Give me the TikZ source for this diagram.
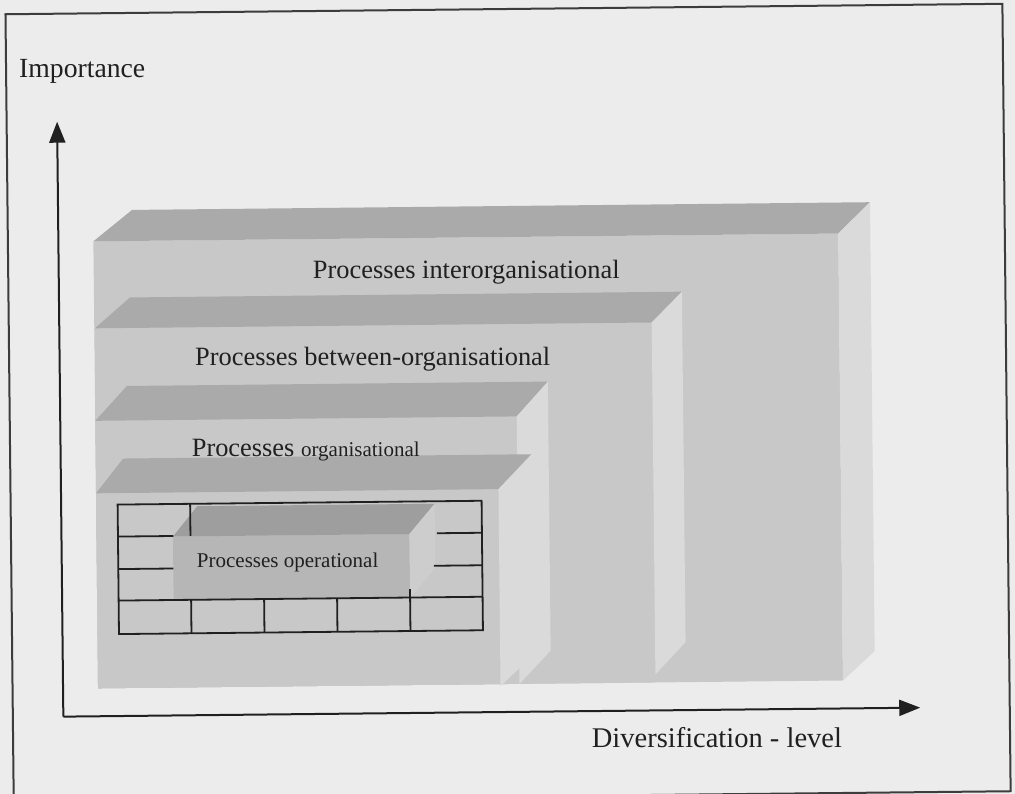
\documentclass[tikz,border=0pt]{standalone}
\usepackage{fontspec}
\setmainfont{Liberation Serif}
\usetikzlibrary{arrows.meta}

\definecolor{paper}{RGB}{236,236,236}
\definecolor{ink}{RGB}{32,32,32}
\definecolor{framec}{RGB}{60,60,60}
\definecolor{topc}{RGB}{170,170,170}
\definecolor{frontc}{RGB}{200,200,200}
\definecolor{sidec}{RGB}{218,218,218}
\definecolor{optopc}{RGB}{158,158,158}
\definecolor{opfrontc}{RGB}{182,182,182}
\definecolor{opsidec}{RGB}{205,205,205}

\tikzset{
  boxtop/.style={fill=topc},
  boxfront/.style={fill=frontc},
  boxside/.style={fill=sidec},
  optop/.style={fill=optopc},
  opfront/.style={fill=opfrontc},
  opside/.style={fill=opsidec},
  gridline/.style={draw=ink, line width=1.8pt},
  axisline/.style={draw=ink, line width=2pt, -{Triangle[length=21pt,width=16pt]}},
  lbl/.style={anchor=base west, inner sep=0pt, text=ink},
  bigfont/.style={font=\fontsize{28}{32}\selectfont},
  midfont/.style={font=\fontsize{26.4}{30}\selectfont},
  smallfont/.style={font=\fontsize{21}{25}\selectfont}
}

\begin{document}
\begin{tikzpicture}[x=1pt, y=-1pt]
\useasboundingbox (0,0) rectangle (1015,794);
\fill[paper] (0,0) rectangle (1015,794);

\begin{scope}[rotate around={0.6:(507.5,397)}]

% outer frame
\draw[framec, line width=2pt] (9.5,9) rectangle (1006.5,796.5);

% level 1: interorganisational slab
\fill[boxfront] (95,237) rectangle (840,684);
\fill[boxtop] (95,237) -- (134,206) -- (872,206) -- (840,237) -- cycle;
\fill[boxside] (840,237) -- (872,206) -- (872,655) -- (840,684) -- cycle;

% level 2: between-organisational slab
\fill[boxfront] (95.5,324) rectangle (652.5,684);
\fill[boxtop] (95.5,324) -- (131,293.5) -- (683,293.5) -- (652.5,324) -- cycle;
\fill[boxside] (652.5,324) -- (683,293.5) -- (683,644) -- (652.5,676) -- cycle;

% level 3: organisational slab
\fill[boxfront] (95,416.5) rectangle (516.5,684);
\fill[boxtop] (95,416.5) -- (127,382) -- (548,382) -- (516.5,416.5) -- cycle;
\fill[boxside] (516.5,416.5) -- (548,382) -- (548,651) -- (516.5,684) -- cycle;

% level 4: slab holding the grid
\fill[boxfront] (95,489) rectangle (497.5,684);
\fill[boxtop] (95,489) -- (122.5,454.5) -- (531,454.5) -- (497.5,489) -- cycle;
\fill[boxside] (497.5,489) -- (531,454.5) -- (531,655) -- (497.5,686) -- cycle;

% operational block
\fill[opfront] (171.5,533) rectangle (408,597);
\fill[optop] (171.5,533) -- (196,503) -- (433.5,503) -- (408,533) -- cycle;
\fill[opside] (408,533) -- (433.5,503) -- (433.5,567) -- (408,597) -- cycle;

% grid around the operational block
\draw[gridline] (116.5,500.5) rectangle (480.5,630);
\draw[gridline] (116.5,596.5) -- (480.5,596.5);
\draw[gridline] (189,596.5) -- (189,630);
\draw[gridline] (262,596.5) -- (262,630);
\draw[gridline] (335,596.5) -- (335,630);
\draw[gridline] (408,588) -- (408,630);
\draw[gridline] (116.5,532.5) -- (172,532.5);
\draw[gridline] (435.5,532.5) -- (480.5,532.5);
\draw[gridline] (116.5,565) -- (171.5,565);
\draw[gridline] (432,565) -- (480.5,565);
\draw[gridline] (189,500.5) -- (189,532.5);

% labels
\node[lbl, midfont] (inter) at (314,276) {Processes interorganisational};
\node[lbl, midfont] (between) at (195.3,362.4) {Processes between-organisational};
\node[lbl] (org) at (191,453.4) {\fontsize{26.4}{30}\selectfont Processes \fontsize{21}{25}\selectfont organisational};
\node[lbl, smallfont] (oper) at (195,564.7) {Processes operational};

% axes
\coordinate (origin) at (60,712);
\coordinate (ytip) at (60,117);
\coordinate (xtip) at (917,712);
\draw[axisline] (origin) -- (ytip);
\draw[axisline] (origin) -- (xtip);
\node[lbl, font=\fontsize{27.7}{32}\selectfont] (ylabel) at (22.3,72) {Importance};
\node[lbl, font=\fontsize{28.5}{32}\selectfont] (xlabel) at (588,748) {Diversification - level};

\end{scope}
\end{tikzpicture}
\end{document}
